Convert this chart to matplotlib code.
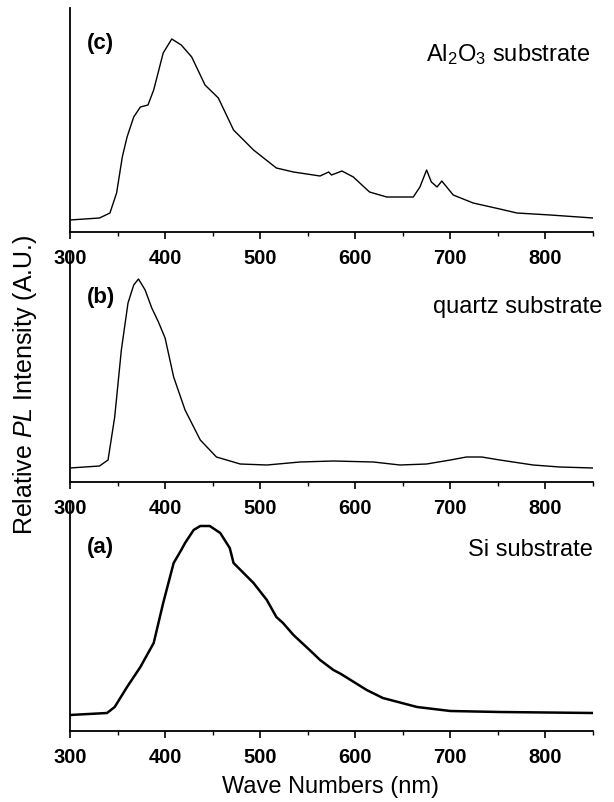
import matplotlib
matplotlib.use("Agg")
import matplotlib.pyplot as plt
from matplotlib.ticker import MultipleLocator

plt.rcParams["font.family"] = ["Liberation Sans", "DejaVu Sans"]
plt.rcParams["mathtext.fontset"] = "custom"
plt.rcParams["mathtext.rm"] = "Liberation Sans"
plt.rcParams["mathtext.it"] = "Liberation Sans:italic"

# (c) Al2O3 substrate
wl_c = [300, 331, 342, 349, 355, 360, 367, 374, 382, 388, 398, 407, 417, 428,
        442, 456, 472, 493, 517, 535, 563, 572, 575, 586, 598, 607, 615, 633, 661,
        668, 675, 680, 686, 691, 703, 724, 752, 770, 805, 850]
pl_c = [12, 14, 19, 39, 75, 95, 115, 125, 127, 142, 179, 193, 187, 175,
        147, 134, 102, 82, 64, 60, 56, 60, 57, 61, 55, 47, 40, 35, 35,
        45, 62, 50, 45, 51, 37, 29, 23, 19, 17, 14]

# (b) quartz substrate
wl_b = [300, 331, 340, 347, 354, 361, 367, 372, 379, 386, 393, 400, 409, 421,
        437, 454, 479, 507, 542, 577, 619, 647, 675, 700, 717, 733, 752, 787,
        815, 850]
pl_b = [14, 16, 22, 65, 132, 179, 197, 203, 192, 174, 160, 144, 105, 72,
        42, 25, 18, 17, 20, 21, 20, 17, 18, 22, 25, 25, 22, 17,
        15, 14]

# (a) Si substrate
wl_a = [300, 339, 347, 360, 374, 388, 398, 409, 417, 421, 430, 437, 447, 458,
        468, 472, 493, 507, 517, 524, 535, 552, 563, 577, 585, 612, 629, 665,
        700, 752, 850]
pl_a = [16, 18, 24, 44, 64, 88, 128, 168, 181, 188, 201, 205, 205, 198,
        183, 168, 148, 131, 114, 108, 96, 81, 71, 61, 57, 41, 33, 24,
        20, 19, 18]

fig = plt.figure(figsize=(6.14, 8.02), dpi=100)
left, width = 70 / 614, 523 / 614
# data, tag, name, axis bottom/top in px, line width, tag y, name y, name x
panels = [
    (wl_c, pl_c, "(c)", r"Al$_2$O$_3$ substrate", 232, 8, 1.0, 0.84, 0.79, 0.994),
    (wl_b, pl_b, "(b)", "quartz substrate", 482, 252, 1.0, 0.80, 0.76, 1.017),
    (wl_a, pl_a, "(a)", "Si substrate", 731, 502, 1.8, 0.80, 0.79, 1.0),
]

for wl, pl, tag, name, ybot, ytop, lw, ty, ny, nx in panels:
    ax = fig.add_axes([left, 1 - ybot / 802, width, (ybot - ytop) / 802])
    ax.plot(wl, pl, color="black", lw=lw)
    ax.set_xlim(300, 850)
    ax.set_ylim(0, ybot - ytop)
    ax.spines["top"].set_visible(False)
    ax.spines["right"].set_visible(False)
    ax.spines["left"].set_linewidth(1.3)
    ax.spines["bottom"].set_linewidth(1.3)
    ax.set_yticks([])
    ax.xaxis.set_major_locator(MultipleLocator(100))
    ax.xaxis.set_minor_locator(MultipleLocator(50))
    ax.tick_params(axis="x", which="major", direction="out", length=5, width=1.2,
                   labelsize=14.5, pad=7)
    ax.tick_params(axis="x", which="minor", direction="out", length=3, width=1.0)
    for lab in ax.get_xticklabels():
        lab.set_fontweight("bold")
    ax.patch.set_alpha(0)
    ax.text(0.033, ty, tag, transform=ax.transAxes, fontsize=16,
            fontweight="bold", va="center", ha="left")
    ax.text(nx, ny, name, transform=ax.transAxes, fontsize=17,
            va="center", ha="right")

fig.text(331 / 614, 1 - 787 / 802, "Wave Numbers (nm)", fontsize=17,
         ha="center", va="center")
fig.text(25 / 614, 1 - 385 / 802, r"Relative $\mathit{PL}$ Intensity (A.U.)",
         fontsize=18, rotation=90, ha="center", va="center")

fig.savefig("out.png", dpi=100)
